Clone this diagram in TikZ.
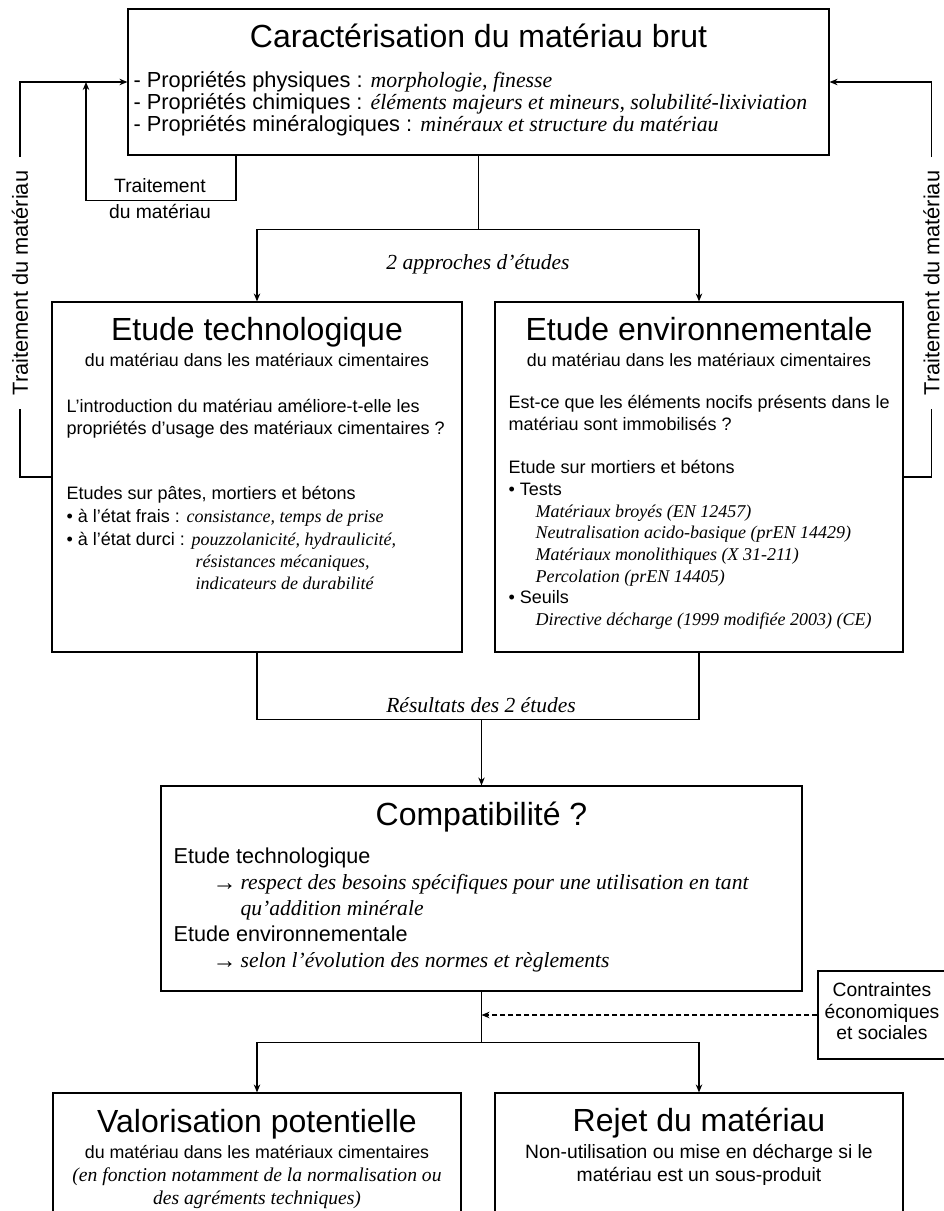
\documentclass[tikz,border=0pt]{standalone}
\usepackage{fontspec}
\setmainfont{Liberation Sans}
\newfontfamily\tnr{Liberation Serif}
\usetikzlibrary{arrows.meta}
\newcommand{\ital}[1]{{\tnr\itshape #1}}
\tikzset{
  bx/.style={draw, line width=1.2pt, inner sep=0pt},
  fs/.style={font=\fontsize{#1}{#1}\selectfont},
  tl/.style={inner sep=0pt, anchor=base west},
  tc/.style={inner sep=0pt, anchor=base},
  vt/.style={rotate=90, inner xsep=13pt, inner ysep=0pt, font=\fontsize{21.8}{21.8}\selectfont},
  arr/.style={-{Stealth[length=8pt,width=6.5pt]}},
}
\begin{document}
\begin{tikzpicture}[x=1pt,y=-1pt,line width=1.2pt]
\useasboundingbox (0,0) rectangle (944,1211);
% boxes
\node[bx, minimum width=701pt, minimum height=146pt] (top) at (478.5,82) {};
\node[bx, minimum width=410pt, minimum height=350pt] (tech) at (257,477) {};
\node[bx, minimum width=408pt, minimum height=350pt] (env) at (699,477) {};
\node[bx, minimum width=641pt, minimum height=205pt] (comp) at (481.5,888.5) {};
\node[bx, minimum width=132pt, minimum height=88pt] (contr) at (884,1015) {};
\node[bx, minimum width=408pt, minimum height=140pt] (valo) at (257,1163) {};
\node[bx, minimum width=408pt, minimum height=140pt] (rej) at (699,1163) {};

% top box text
\node[tc, fs=32] (c1) at (478.5,47) {Caractérisation du matériau brut};
\node[tl, fs=21.8] (c2) at (133,87) {- Propriétés physiques : \ital{morphologie, finesse}};
\node[tl, fs=21.8] (c3) at (133,109) {- Propriétés chimiques : \ital{éléments majeurs et mineurs, solubilité-lixiviation}};
\node[tl, fs=21.8] (c4) at (133,131) {- Propriétés minéralogiques : \ital{minéraux et structure du matériau}};

% tech box text
\node[tc, fs=32] (tt1) at (257,340) {Etude technologique};
\node[tc, fs=17.8] (tt2) at (257,366) {du matériau dans les matériaux cimentaires};
\node[tl, fs=18] (tt3) at (66,412) {L’introduction du matériau améliore-t-elle les};
\node[tl, fs=18] (tt4) at (66,434) {propriétés d’usage des matériaux cimentaires ?};
\node[tl, fs=18] (tt5) at (66,499.5) {Etudes sur pâtes, mortiers et bétons};
\node[tl, fs=18] (tt6) at (66,522) {• à l’état frais : \ital{consistance, temps de prise}};
\node[tl, fs=18] (tt7) at (66,545) {• à l’état durci : \ital{pouzzolanicité, hydraulicité,}};
\node[tl, fs=18] (tt8) at (195,567) {\ital{résistances mécaniques,}};
\node[tl, fs=18] (tt9) at (195,589) {\ital{indicateurs de durabilité}};

% env box text
\node[tc, fs=32] (et1) at (699,340) {Etude environnementale};
\node[tc, fs=17.8] (et2) at (699,366) {du matériau dans les matériaux cimentaires};
\node[tl, fs=18] (et3) at (508,408.5) {Est-ce que les éléments nocifs présents dans le};
\node[tl, fs=18] (et4) at (508,430.5) {matériau sont immobilisés ?};
\node[tl, fs=18] (et5) at (508,473.5) {Etude sur mortiers et bétons};
\node[tl, fs=18] (et6) at (508,495.5) {• Tests};
\node[tl, fs=18] (et7) at (535,517.5) {\ital{Matériaux broyés (EN 12457)}};
\node[tl, fs=18] (et8) at (535,538.5) {\ital{Neutralisation acido-basique (prEN 14429)}};
\node[tl, fs=18] (et9) at (535,560.5) {\ital{Matériaux monolithiques (X 31-211)}};
\node[tl, fs=18] (et10) at (535,582.5) {\ital{Percolation (prEN 14405)}};
\node[tl, fs=18] (et11) at (508,603.5) {• Seuils};
\node[tl, fs=18] (et12) at (535,625.5) {\ital{Directive décharge (1999 modifiée 2003) (CE)}};

% compat text
\node[tc, fs=32] (k1) at (481.5,825) {Compatibilité ?};
\node[tl, fs=21.6] (k2) at (173,863.5) {Etude technologique};
\node[tl, fs=24] (k3a) at (212,890) {\tnr →};
\node[tl, fs=21.6] (k3) at (240,889) {\ital{respect des besoins spécifiques pour une utilisation en tant}};
\node[tl, fs=21.6] (k4) at (240,915) {\ital{qu’addition minérale}};
\node[tl, fs=21.6] (k5) at (173,941) {Etude environnementale};
\node[tl, fs=24] (k6a) at (212,968) {\tnr →};
\node[tl, fs=21.6] (k6) at (240,967) {\ital{selon l’évolution des normes et règlements}};

% contraintes
\node[tc, fs=19.3] (ct1) at (882,996) {Contraintes};
\node[tc, fs=19.3] (ct2) at (882,1018) {économiques};
\node[tc, fs=19.3] (ct3) at (882,1039) {et sociales};

% bottom boxes text
\node[tc, fs=32] (v1) at (257,1132) {Valorisation potentielle};
\node[tc, fs=17.8] (v2) at (257,1158) {du matériau dans les matériaux cimentaires};
\node[tc, fs=19.6] (v3) at (257,1181) {\ital{(en fonction notamment de la normalisation ou}};
\node[tc, fs=19.6] (v4) at (257,1204) {\ital{des agréments techniques)}};
\node[tc, fs=32] (r1t) at (699,1131) {Rejet du matériau};
\node[tc, fs=19.3] (r2t) at (699,1158) {Non-utilisation ou mise en décharge si le};
\node[tc, fs=19.3] (r3t) at (699,1181) {matériau est un sous-produit};

% labels
\node[tc, fs=21.5] (a2) at (478,269.5) {\ital{2 approches d’études}};
\node[tc, fs=21.5] (a3) at (481,712) {\ital{Résultats des 2 études}};
\node[tc, fs=19.3] (tr1) at (160,192) {Traitement};
\node[tc, fs=19.3] (tr2) at (160,218) {du matériau};

% vertical texts
\node[vt] (lt) at (20,283) {Traitement du matériau};
\node[vt] (rt) at (931.5,283) {Traitement du matériau};

% connectors
\draw (top.south) -- ++(0,74) coordinate (s1);
\draw[arr] (s1) -| (tech.north);
\draw[arr] (s1) -| (env.north);
\draw (tech.south) -- ++(0,67) coordinate (r1) -| (env.south);
\draw[arr] (r1 -| comp.north) -- (comp.north);
\draw (comp.south) -- ++(0,51) coordinate (s2);
\draw[arr] (s2) -| (valo.north);
\draw[arr] (s2) -| (rej.north);
\draw[arr, dash pattern=on 5pt off 3pt] (contr.west) -- (contr.west -| comp.south);

\draw (tech.west) -| (lt.west);
\draw[arr] (lt.east) |- (top.west);
\draw (env.east) -| (rt.west);
\draw[arr] (rt.east) |- (top.east);

\coordinate (j1) at (86,82);
\draw[arr] ([xshift=108.5pt]top.south west) -- ++(0,45) -| (j1);
\end{tikzpicture}
\end{document}
